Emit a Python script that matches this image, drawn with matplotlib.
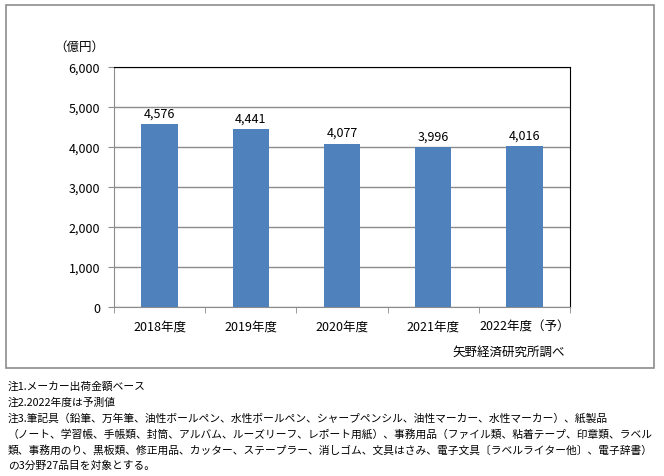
import matplotlib.pyplot as plt
from matplotlib.patches import Rectangle

plt.rcParams['font.family'] = ['Noto Sans CJK JP', 'DejaVu Sans']

# data
years = ["2018年度", "2019年度", "2020年度", "2021年度", "2022年度（予）"]
values = [4576, 4441, 4077, 3996, 4016]
yticks = [0, 1000, 2000, 3000, 4000, 5000, 6000]

notes = [
    "注1.メーカー出荷金額ベース",
    "注2.2022年度は予測値",
    "注3.筆記具（鉛筆、万年筆、油性ボールペン、水性ボールペン、シャープペンシル、油性マーカー、水性マーカー）、紙製品",
    "（ノート、学習帳、手帳類、封筒、アルバム、ルーズリーフ、レポート用紙）、事務用品（ファイル類、粘着テープ、印章類、ラベル",
    "類、事務用のり、黒板類、修正用品、カッター、ステープラー、消しゴム、文具はさみ、電子文具〔ラベルライター他〕、電子辞書）",
    "の3分野27品目を対象とする。",
]

W, H = 664, 477
fig = plt.figure(figsize=(W / 100, H / 100), dpi=100)

# outer frame of the chart area
fig.patches.append(Rectangle((6 / W, 1 - 369 / H), 648 / W, 363 / H,
                             transform=fig.transFigure, fill=False,
                             edgecolor="#8c8c8c", linewidth=1.2))

ax = fig.add_axes([114 / W, 1 - 308 / H, 456 / W, 240 / H])
x = range(len(years))
ax.bar(x, values, width=0.4, color="#4f81bd", zorder=3)
for i, v in enumerate(values):
    ax.text(i, v + 120, f"{v:,}", ha="center", va="bottom", fontsize=9)

ax.set_xlim(-0.5, len(years) - 0.5)
ax.set_ylim(0, 6000)
ax.set_yticks(yticks)
ax.set_yticklabels([f"{t:,}" for t in yticks], fontsize=9)
ax.yaxis.grid(True, color="#8c8c8c", linewidth=1, zorder=0)

ax.set_xticks(list(x))
ax.set_xticklabels(years, fontsize=9)
ax.set_xticks([i - 0.5 for i in range(len(years) + 1)], minor=True)
ax.tick_params(axis="x", which="major", length=0, pad=9)
ax.tick_params(axis="x", which="minor", length=4, color="#8c8c8c")
ax.tick_params(axis="y", length=4, color="#8c8c8c", pad=6)

ax.spines["top"].set_color("black")
ax.spines["right"].set_color("black")
ax.spines["left"].set_color("#8c8c8c")
ax.spines["bottom"].set_color("#8c8c8c")

fig.text(104 / W, 1 - 47 / H, "（億円）", fontsize=9, va="center", ha="right")
fig.text(565 / W, 1 - 352 / H, "矢野経済研究所調べ", fontsize=9, va="center", ha="right")

# notes: one common font size, shrunk so the widest line fits the width
note_texts = []
for k, line in enumerate(notes):
    t = fig.text(8 / W, 1 - (387 + k * 15.8) / H, line, fontsize=8.2, va="center", ha="left")
    note_texts.append(t)
renderer = fig.canvas.get_renderer()
widest = max(t.get_window_extent(renderer).width for t in note_texts)
size = 8.2 * min(1.0, 645 / widest)
for t in note_texts:
    t.set_fontsize(size)

fig.savefig("out.png", dpi=100)
